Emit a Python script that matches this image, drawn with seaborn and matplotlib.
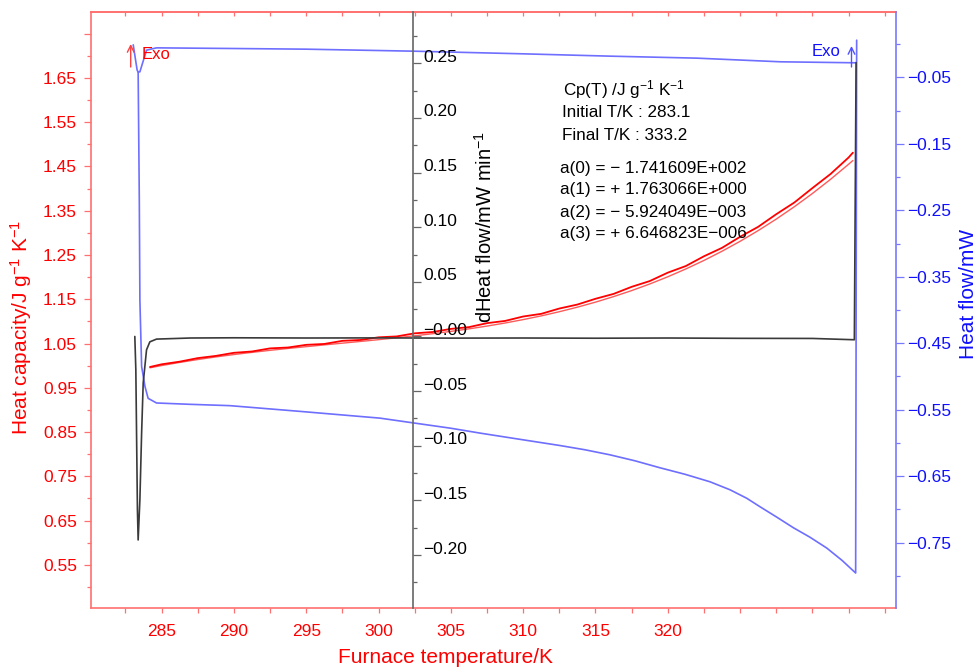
import matplotlib
matplotlib.use("Agg")
import matplotlib.pyplot as plt
import seaborn as sns
from matplotlib.ticker import FixedLocator, FixedFormatter
from matplotlib.transforms import ScaledTranslation

# ---------------- data ----------------
# Heat capacity, polynomial fit (left axis)
T_fit = [284.2, 285.0, 286.25, 287.5, 288.75, 290.0, 291.25, 292.5, 293.75, 295.0,
         296.25, 297.5, 298.75, 300.0, 301.25, 302.5, 303.75, 305.0, 306.25, 307.5,
         308.75, 310.0, 311.25, 312.5, 313.75, 315.0, 316.25, 317.5, 318.75, 320.0,
         321.25, 322.5, 323.75, 325.0, 326.25, 327.5, 328.75, 330.0, 331.25, 332.5,
         332.8]
cp_fit = [0.9952, 1.0002, 1.0073, 1.0138, 1.0197, 1.0251, 1.0300, 1.0346, 1.0389, 1.0429,
          1.0469, 1.0508, 1.0547, 1.0587, 1.0629, 1.0674, 1.0722, 1.0774, 1.0831, 1.0894,
          1.0963, 1.1040, 1.1124, 1.1218, 1.1321, 1.1434, 1.1559, 1.1695, 1.1844, 1.2007,
          1.2184, 1.2376, 1.2584, 1.2808, 1.3050, 1.3310, 1.3589, 1.3888, 1.4207, 1.4548,
          1.4633]

# Heat capacity, measured (left axis)
T_meas = [284.2, 285.0, 286.25, 287.5, 288.75, 290.0, 291.25, 292.5, 293.75, 295.0,
          296.25, 297.5, 298.75, 300.0, 301.25, 302.5, 303.75, 305.0, 306.25, 307.5,
          308.75, 310.0, 311.25, 312.5, 313.75, 315.0, 316.25, 317.5, 318.75, 320.0,
          321.25, 322.5, 323.75, 325.0, 326.25, 327.5, 328.75, 330.0, 331.25, 332.5,
          332.8]
cp_meas = [0.997, 1.003, 1.009, 1.017, 1.022, 1.029, 1.032, 1.039, 1.041, 1.047,
           1.049, 1.056, 1.058, 1.064, 1.066, 1.073, 1.076, 1.083, 1.087, 1.096,
           1.101, 1.111, 1.117, 1.129, 1.138, 1.151, 1.162, 1.178, 1.191, 1.210,
           1.225, 1.247, 1.266, 1.291, 1.3135, 1.342, 1.3684, 1.401, 1.4327, 1.470,
           1.481]

# Heat flow (right axis): upper trace
T_hf_top = [283.04, 283.31, 283.38, 283.50, 283.96, 284.65, 290.0, 295.0, 302.4,
            310.0, 316.0, 322.0, 327.8, 333.0]
hf_top = [-0.001, -0.039, -0.042, -0.0416, -0.009, -0.0055, -0.0065, -0.0075, -0.0105,
          -0.0145, -0.018, -0.021, -0.0265, -0.028]

# Heat flow (right axis): lower trace
T_hf_low = [283.38, 283.46, 283.50, 283.62, 283.85, 284.07, 284.65, 286.96, 289.72,
            294.56, 300.10, 302.38, 305.0, 307.01, 309.78, 312.54, 314.27, 316.00, 317.73,
            319.46, 321.19, 322.92, 324.30, 325.46, 326.38, 327.55, 328.68, 329.83,
            330.99, 332.05, 332.99, 333.06]
hf_low = [-0.042, -0.2345, -0.385, -0.485, -0.515, -0.533, -0.540, -0.542, -0.544,
          -0.5526, -0.5628, -0.5699, -0.5780, -0.5853, -0.5947, -0.604, -0.6104, -0.618,
          -0.627, -0.6375, -0.6473, -0.6586, -0.6706, -0.6834, -0.6962, -0.7120, -0.7277,
          -0.7420, -0.7583, -0.7769, -0.7959, 0.006]

# dHeat flow (middle axis)
T_dhf = [283.15, 283.22, 283.33, 283.38, 283.50, 283.62, 283.73, 283.96, 284.19,
         284.65, 287.0, 290.0, 295.0, 300.0, 305.0, 310.0, 315.0, 320.0, 325.0,
         330.0, 332.9, 333.02]
dhf = [0.000, -0.0305, -0.1587, -0.1862, -0.1495, -0.0882, -0.0424, -0.0122, -0.0049,
       -0.0024, -0.0014, -0.0012, -0.0014, -0.0013, -0.0015, -0.0014, -0.0016, -0.0014,
       -0.0017, -0.0018, -0.0030, 0.2506]

# ticks
x_major = [285, 290, 295, 300, 305, 310, 315, 320, 325, 330, 335]
x_labels = ["285", "290", "295", "300", "305", "310", "315", "320", "", "", ""]
x_minor = [282.5, 287.5, 292.5, 297.5, 302.5, 307.5, 312.5, 317.5, 322.5, 327.5, 332.5]

cp_major = [0.55, 0.65, 0.75, 0.85, 0.95, 1.05, 1.15, 1.25, 1.35, 1.45, 1.55, 1.65, 1.75]
cp_labels = ["0.55", "0.65", "0.75", "0.85", "0.95", "1.05", "1.15", "1.25", "1.35",
             "1.45", "1.55", "1.65", ""]
cp_minor = [0.5, 0.6, 0.7, 0.8, 0.9, 1.0, 1.1, 1.2, 1.3, 1.4, 1.5, 1.6, 1.7]

hf_major = [-0.05, -0.15, -0.25, -0.35, -0.45, -0.55, -0.65, -0.75]
hf_labels = ["\u22120.05", "\u22120.15", "\u22120.25", "\u22120.35", "\u22120.45",
             "\u22120.55", "\u22120.65", "\u22120.75"]
hf_minor = [0.0, -0.1, -0.2, -0.3, -0.4, -0.5, -0.6, -0.7, -0.8]

dhf_major = [0.25, 0.20, 0.15, 0.10, 0.05, 0.0, -0.05, -0.10, -0.15, -0.20]
dhf_labels = ["0.25", "0.20", "0.15", "0.10", "0.05", "\u22120.00", "\u22120.05",
              "\u22120.10", "\u22120.15", "\u22120.20"]
dhf_minor = [0.275, 0.225, 0.175, 0.125, 0.075, 0.025, -0.025, -0.075, -0.125,
             -0.175, -0.225]

info_lines = [
    "Cp(T) /J g$\\mathregular{^{-1}}$ K$\\mathregular{^{-1}}$",
    "Initial T/K : 283.1",
    "Final T/K : 333.2",
    "a(0) = \u2212 1.741609E+002",
    "a(1) = + 1.763066E+000",
    "a(2) = \u2212 5.924049E\u2212003",
    "a(3) = + 6.646823E\u2212006",
]

# ---------------- style ----------------
sns.set_style("ticks")
plt.rcParams["font.family"] = ["Liberation Sans", "DejaVu Sans"]
plt.rcParams["mathtext.fontset"] = "custom"
plt.rcParams["mathtext.rm"] = "Liberation Sans"
plt.rcParams["mathtext.it"] = "Liberation Sans:italic"
plt.rcParams["mathtext.bf"] = "Liberation Sans:bold"

RED_SP = "#ff7070"
RED_TXT = "#ff0000"
BLUE_SP = "#7878ff"
BLUE_TXT = "#1010ff"
BLUE_LN = "#6e6eff"
GRAY_SP = "#666666"

W, H = 977, 669
fig = plt.figure(figsize=(W / 100, H / 100), dpi=100)
L, R, T, B = 91, 896, 12.3, 608.3
ax = fig.add_axes([L / W, 1 - B / H, (R - L) / W, (B - T) / H])
ax2 = ax.twinx()
ax3 = ax.twinx()

# ---------------- lines ----------------
sns.lineplot(x=T_fit, y=cp_fit, ax=ax, color="#ff5a5a", linewidth=1.0,
             sort=False, estimator=None)
sns.lineplot(x=T_meas, y=cp_meas, ax=ax, color="#ff0000", linewidth=1.3,
             sort=False, estimator=None)
sns.lineplot(x=T_hf_top, y=hf_top, ax=ax2, color=BLUE_LN, linewidth=1.2,
             sort=False, estimator=None)
sns.lineplot(x=T_hf_low, y=hf_low, ax=ax2, color=BLUE_LN, linewidth=1.2,
             sort=False, estimator=None)
sns.lineplot(x=T_dhf, y=dhf, ax=ax3, color="#3a3a3a", linewidth=1.2,
             sort=False, estimator=None)

# ---------------- limits ----------------
ax.set_xlim(280.12, 335.78)
ax.set_ylim(0.452, 1.798)
ax2.set_ylim(-0.849, 0.048)
ax3.set_ylim(-0.2487, 0.2966)

# ---------------- main axis (left / bottom) ----------------
for s in ["left", "bottom", "top"]:
    ax.spines[s].set_color(RED_SP)
    ax.spines[s].set_linewidth(1.2)
ax.spines["right"].set_visible(False)

ax.xaxis.set_major_locator(FixedLocator(x_major))
ax.xaxis.set_major_formatter(FixedFormatter(x_labels))
ax.xaxis.set_minor_locator(FixedLocator(x_minor))
ax.yaxis.set_major_locator(FixedLocator(cp_major))
ax.yaxis.set_major_formatter(FixedFormatter(cp_labels))
ax.yaxis.set_minor_locator(FixedLocator(cp_minor))

ax.tick_params(axis="x", which="both", direction="out", colors=RED_SP,
               labelcolor=RED_TXT, labelsize=12.5, length=3.6, width=0.9, pad=8,
               top=False)
ax.tick_params(axis="y", which="major", direction="out", colors=RED_SP,
               labelcolor=RED_TXT, labelsize=12.5, length=5, width=0.9, pad=5,
               right=False)
ax.tick_params(axis="y", which="minor", direction="out", colors=RED_SP,
               length=2.9, width=0.9, right=False)

sec = ax.secondary_xaxis("top")
sec.xaxis.set_major_locator(FixedLocator(x_major + x_minor))
sec.tick_params(axis="x", which="both", direction="in", colors=RED_SP,
                length=3, width=0.9, labeltop=False)
sec.spines["top"].set_color(RED_SP)
sec.spines["top"].set_linewidth(1.2)

ax.set_xlabel("Furnace temperature/K", color=RED_TXT, fontsize=15)
ax.xaxis.set_label_coords((446 - L) / (R - L), -0.066)
ax.set_ylabel("Heat capacity/J g$\\mathregular{^{-1}}$ K$\\mathregular{^{-1}}$",
              color=RED_TXT, fontsize=15)
ax.yaxis.label.set_va("center")
ax.yaxis.set_label_coords((20.7 - L) / (R - L), (B - 327) / (B - T))

# ---------------- right axis (heat flow) ----------------
for s in ["left", "bottom", "top"]:
    ax2.spines[s].set_visible(False)
ax2.spines["right"].set_color(BLUE_SP)
ax2.spines["right"].set_linewidth(1.2)
ax2.yaxis.set_major_locator(FixedLocator(hf_major))
ax2.yaxis.set_major_formatter(FixedFormatter(hf_labels))
ax2.yaxis.set_minor_locator(FixedLocator(hf_minor))
ax2.tick_params(axis="y", which="major", direction="out", colors=BLUE_SP,
                labelcolor=BLUE_TXT, labelsize=12.5, length=5.8, width=0.9, pad=2)
ax2.tick_params(axis="y", which="minor", direction="out", colors=BLUE_SP,
                length=2.9, width=0.9)
ax2.set_ylabel("Heat flow/mW", color=BLUE_TXT, fontsize=15)
ax2.yaxis.label.set_va("center")
ax2.yaxis.set_label_coords((968 - L) / (R - L), (B - 294) / (B - T))

# ---------------- middle axis (dHeat flow) ----------------
for s in ["left", "bottom", "top"]:
    ax3.spines[s].set_visible(False)
ax3.spines["right"].set_position(("data", 302.4))
ax3.spines["right"].set_color(GRAY_SP)
ax3.spines["right"].set_linewidth(1.2)
ax3.yaxis.set_major_locator(FixedLocator(dhf_major))
ax3.yaxis.set_major_formatter(FixedFormatter(dhf_labels))
ax3.yaxis.set_minor_locator(FixedLocator(dhf_minor))
ax3.tick_params(axis="y", which="major", direction="out", colors=GRAY_SP,
                labelcolor="black", labelsize=12.5, length=5.8, width=0.9, pad=1.5)
ax3.tick_params(axis="y", which="minor", direction="out", colors=GRAY_SP,
                length=2.9, width=0.9)
ax3.set_ylabel("dHeat flow/mW min$\\mathregular{^{-1}}$", color="black", fontsize=14.5)
ax3.yaxis.label.set_va("center")
ax3.yaxis.set_label_coords((485 - L) / (R - L), (B - 226.5) / (B - T))

# ---------------- annotations ----------------
def fx(px):
    return px / W

def fy(py):
    return 1 - py / H

fig.text(fx(141.7), fy(54.3), "Exo", color=RED_TXT, fontsize=12, ha="left", va="center")
fig.text(fx(811.7), fy(51.7), "Exo", color=BLUE_TXT, fontsize=12, ha="left", va="center")
fig.add_artist(matplotlib.patches.FancyArrowPatch(
    (fx(130.7), fy(67)), (fx(130.7), fy(44)), transform=fig.transFigure,
    arrowstyle="->", mutation_scale=12, color="#ff4040", lw=1.0,
    shrinkA=0, shrinkB=0))
fig.add_artist(matplotlib.patches.FancyArrowPatch(
    (fx(851.5), fy(67)), (fx(851.5), fy(46)), transform=fig.transFigure,
    arrowstyle="->", mutation_scale=12, color="#5050ff", lw=1.0,
    shrinkA=0, shrinkB=0))

info_pos = [(562.7, 95), (561.7, 116.7), (561.7, 140), (560, 173.3),
            (560, 194), (560, 217.3), (560, 238.3)]
for (px, py), s in zip(info_pos, info_lines):
    fig.text(fx(px), fy(py), s, color="black", fontsize=12.3, ha="left", va="baseline")

# shift middle-axis tick labels slightly up, as in the reference
fig.canvas.draw()
for tk in ax3.yaxis.get_major_ticks():
    for lbl in (tk.label1, tk.label2):
        lbl.set_transform(lbl.get_transform() +
                          ScaledTranslation(0, 0.075, fig.dpi_scale_trans))

fig.savefig("out.png", dpi=100)
